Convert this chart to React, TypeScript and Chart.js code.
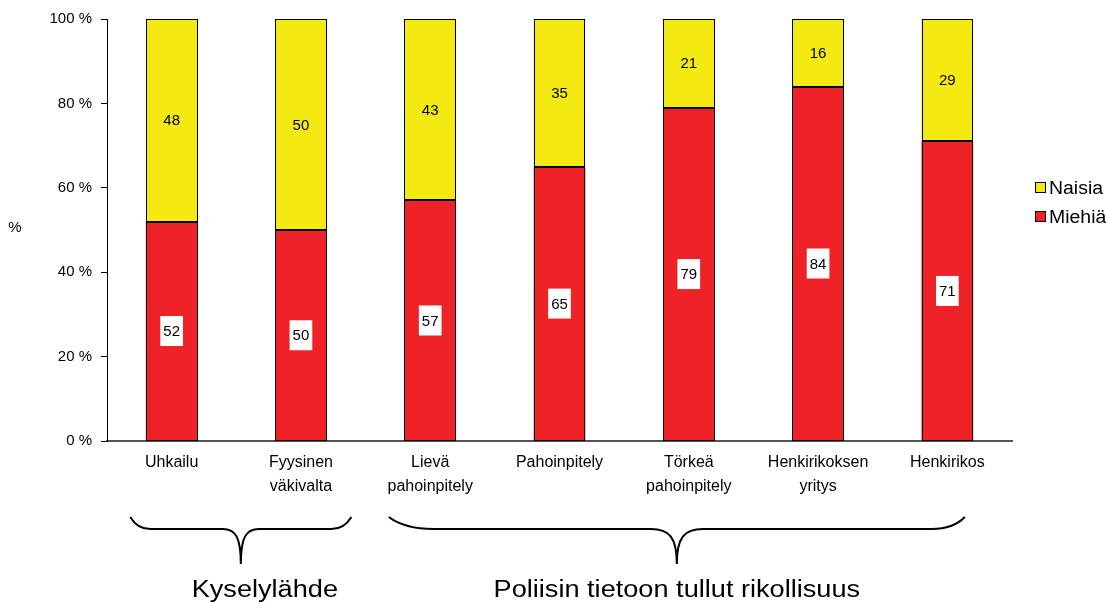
import React, { useEffect, useRef } from "react";
import { Chart, registerables } from "chart.js";

Chart.register(...registerables);

const categories: string[][] = [
  ["Uhkailu"],
  ["Fyysinen", "väkivalta"],
  ["Lievä", "pahoinpitely"],
  ["Pahoinpitely"],
  ["Törkeä", "pahoinpitely"],
  ["Henkirikoksen", "yritys"],
  ["Henkirikos"],
];
const miehia: number[] = [52, 50, 57, 65, 79, 84, 71];
const naisia: number[] = [48, 50, 43, 35, 21, 16, 29];
const yTicks: number[] = [0, 20, 40, 60, 80, 100];
const groupLabels: string[] = ["Kyselylähde", "Poliisin tietoon tullut rikollisuus"];
const groupRanges: number[][] = [[0, 1], [2, 6]];

const RED = "#ee2227";
const YELLOW = "#f4ea12";
const FONT = "'Liberation Sans', Arial, sans-serif";

function brace(
  ctx: CanvasRenderingContext2D,
  x0: number,
  x1: number,
  xc: number,
  yTop: number,
  yMid: number,
  yBot: number,
  rL: number,
  rR: number,
  rM: number
) {
  ctx.beginPath();
  ctx.moveTo(x0, yTop);
  ctx.quadraticCurveTo(x0 + rL * 0.35, yMid, x0 + rL, yMid);
  ctx.lineTo(xc - rM, yMid);
  ctx.bezierCurveTo(xc - rM * 0.3, yMid, xc, yMid + 8, xc, yBot);
  ctx.moveTo(x1, yTop);
  ctx.quadraticCurveTo(x1 - rR * 0.35, yMid, x1 - rR, yMid);
  ctx.lineTo(xc + rM, yMid);
  ctx.bezierCurveTo(xc + rM * 0.3, yMid, xc, yMid + 8, xc, yBot);
  ctx.stroke();
}

const extrasPlugin = {
  id: "extras",
  afterDatasetsDraw(chart: any) {
    const ctx: CanvasRenderingContext2D = chart.ctx;
    ctx.save();
    // crisp black outlines on bars
    ctx.strokeStyle = "#000";
    ctx.lineWidth = 1;
    chart.data.datasets.forEach((ds: any, di: number) => {
      const meta = chart.getDatasetMeta(di);
      meta.data.forEach((bar: any) => {
        const l = Math.round(bar.x - bar.width / 2) + 0.5;
        const r = Math.round(bar.x + bar.width / 2) - 0.5;
        const t = Math.round(Math.min(bar.y, bar.base)) + 0.5;
        const b = Math.round(Math.max(bar.y, bar.base)) - 0.5;
        ctx.strokeRect(l, t, r - l, b - t);
      });
    });
    ctx.font = `15px ${FONT}`;
    ctx.textAlign = "center";
    ctx.textBaseline = "middle";
    chart.data.datasets.forEach((ds: any, di: number) => {
      const meta = chart.getDatasetMeta(di);
      meta.data.forEach((bar: any, i: number) => {
        const v = ds.data[i];
        const cy = (bar.y + bar.base) / 2;
        const text = String(v);
        if (ds.label === "Miehiä") {
          const w = ctx.measureText(text).width + 6;
          ctx.fillStyle = "#fff";
          ctx.fillRect(bar.x - w / 2, cy - 15, w, 30);
        }
        ctx.fillStyle = "#000";
        ctx.fillText(text, bar.x, cy + 1);
      });
    });
    ctx.restore();
  },
  afterDraw(chart: any) {
    const ctx: CanvasRenderingContext2D = chart.ctx;
    const xs = chart.scales.x;
    ctx.save();
    // y axis title
    ctx.fillStyle = "#000";
    ctx.font = `15px ${FONT}`;
    ctx.textAlign = "center";
    ctx.textBaseline = "middle";
    ctx.fillText("%", 15, 228);

    // legend
    const legendItems = [
      { label: chart.data.datasets[1].label, color: YELLOW, y: 188 },
      { label: chart.data.datasets[0].label, color: RED, y: 217 },
    ];
    ctx.font = `18px ${FONT}`;
    ctx.textAlign = "left";
    legendItems.forEach((it) => {
      ctx.fillStyle = it.color;
      ctx.fillRect(1035.5, it.y - 5.5, 10, 10);
      ctx.strokeStyle = "#000";
      ctx.lineWidth = 1;
      ctx.strokeRect(1035.5, it.y - 5.5, 10, 10);
      ctx.fillStyle = "#000";
      ctx.save();
      ctx.translate(1049, it.y + 1);
      ctx.scale(1.08, 1);
      ctx.fillText(it.label, 0, 0);
      ctx.restore();
    });

    // braces
    ctx.strokeStyle = "#000";
    ctx.lineWidth = 2;
    const half = (xs.getPixelForValue(1) - xs.getPixelForValue(0)) / 2;
    const b0a = xs.getPixelForValue(groupRanges[0][0]) - half * 0.64;
    const b0b = xs.getPixelForValue(groupRanges[0][1]) + half * 0.78;
    const b1a = xs.getPixelForValue(groupRanges[1][0]) - half * 0.64;
    const b1b = xs.getPixelForValue(groupRanges[1][1]) + half * 0.27;
    const c0 = (b0a + b0b) / 2;
    const c1 = (b1a + b1b) / 2;
    brace(ctx, b0a, b0b, c0, 517, 529, 564, 20, 20, 18);
    brace(ctx, b1a, b1b, c1, 517, 529, 564, 45, 33, 26);

    // group labels
    ctx.fillStyle = "#000";
    ctx.textAlign = "center";
    ctx.textBaseline = "alphabetic";
    ctx.font = `23px ${FONT}`;
    [c0 + 24, c1].forEach((cx, i) => {
      ctx.save();
      ctx.translate(cx, 597);
      ctx.scale(1.18, 1);
      ctx.fillText(groupLabels[i], 0, 0);
      ctx.restore();
    });
    ctx.restore();
  },
};

export default function App() {
  const ref = useRef<HTMLCanvasElement | null>(null);
  useEffect(() => {
    if (!ref.current) return;
    const chart = new Chart(ref.current, {
      type: "bar",
      data: {
        labels: categories,
        datasets: [
          {
            label: "Miehiä",
            data: miehia,
            backgroundColor: RED,
            borderWidth: 0,
            barPercentage: 0.4,
            categoryPercentage: 1,
          },
          {
            label: "Naisia",
            data: naisia,
            backgroundColor: YELLOW,
            borderWidth: 0,
            barPercentage: 0.4,
            categoryPercentage: 1,
          },
        ],
      },
      options: {
        responsive: false,
        animation: false,
        devicePixelRatio: 1,
        layout: { padding: { left: 0, right: 94, top: 19, bottom: 0 } },
        plugins: {
          legend: { display: false },
          tooltip: { enabled: false },
        },
        scales: {
          x: {
            stacked: true,
            grid: { display: true, drawOnChartArea: false, drawTicks: false },
            border: { display: true, color: "#555", width: 2 },
            ticks: {
              color: "#000",
              font: { family: FONT, size: 16, lineHeight: 1.5 },
              padding: 10,
              maxRotation: 0,
              autoSkip: false,
            },
            afterFit: (s: any) => {
              s.height = 161;
            },
          },
          y: {
            stacked: true,
            min: 0,
            max: 100,
            afterBuildTicks: (s: any) => {
              s.ticks = yTicks.map((v) => ({ value: v }));
            },
            grid: {
              display: true,
              drawOnChartArea: false,
              drawTicks: true,
              tickLength: 6,
              color: "#000",
            },
            border: { display: true, color: "#000", width: 1 },
            ticks: {
              color: "#000",
              font: { family: FONT, size: 15 },
              padding: 9,
              callback: (v: any) => `${v} %`,
            },
            afterFit: (s: any) => {
              s.width = 107;
            },
          },
        },
      },
      plugins: [extrasPlugin],
    });
    return () => chart.destroy();
  }, []);
  return (
    <div style={{ position: "absolute", left: 0, top: 0, width: 1106, height: 602, background: "#fff" }}>
      <canvas ref={ref} width={1106} height={602} />
    </div>
  );
}
